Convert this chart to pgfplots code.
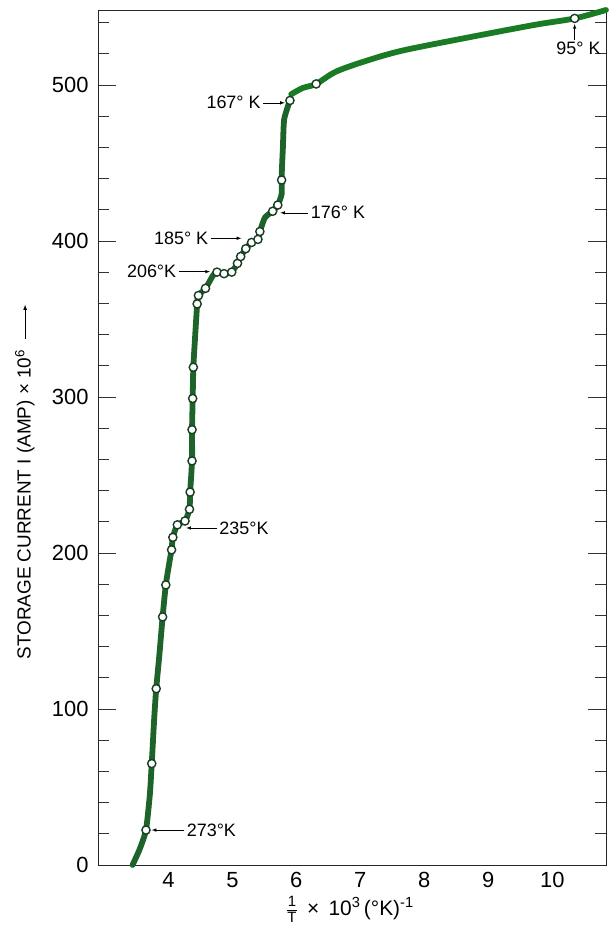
\documentclass[border=0pt]{standalone}
\usepackage{fontspec}
\setmainfont{Liberation Sans}
\usepackage{pgfplots}
\pgfplotsset{compat=1.18}
\definecolor{curve}{RGB}{30,100,42}
\definecolor{mk}{RGB}{25,60,35}
\newcommand{\uparr}{\tikz[baseline=-0.55ex]\draw[-latex, line width=0.8bp] (0,0) -- (34bp,0);}
\begin{document}
\begin{tikzpicture}
\begin{axis}[
  scale only axis,
  width=508bp, height=855bp,
  xmin=2.9, xmax=10.84, ymin=0, ymax=548,
  xtick={4,5,6,7,8,9,10},
  minor xtick={4,5,6,7,8,9,10},
  xtick style={draw=none},
  ytick={0,100,200,300,400,500},
  minor ytick={20,40,60,80,120,140,160,180,220,240,260,280,320,340,360,380,420,440,460,480,520,540},
  tick align=inside,
  major tick length=18bp,
  minor tick length=11bp,
  minor tick style={black!80, line width=0.6bp},
  ytick style={black!80, line width=0.6bp},
  axis line style={black!85, line width=0.8bp},
  /pgf/number format/assume math mode=true,
  tick label style={font=\fontsize{22}{24}\selectfont},
  xticklabel style={yshift=-4bp},
  yticklabel style={xshift=-6bp},
  xlabel={$\frac{\mbox{\fontsize{15}{15}\selectfont 1}}{\mbox{\fontsize{15}{15}\selectfont T}}$\, × \,10\textsuperscript{3}\,(°K)\textsuperscript{-1}},
  xlabel style={font=\fontsize{21}{23}\selectfont, at={(axis description cs:0.496,-0.052)}, anchor=center},
  ylabel={STORAGE CURRENT I (AMP) × 10\textsuperscript{6} \ \uparr},
  ylabel style={font=\fontsize{19}{21}\selectfont, at={(axis description cs:-0.144,0.448)}, anchor=center},
  clip=false,
]
% curve
\addplot[curve, line width=5.8bp, smooth, tension=0.35, line cap=round] coordinates {
(3.44,0) (3.55,10) (3.65,22.4) (3.71,45) (3.74,65) (3.78,95) (3.81,113) (3.86,135) (3.91,159) (3.96,179.5) (4.02,195) (4.05,202) (4.07,210) (4.14,218) (4.26,220.5) (4.33,228) (4.34,239) (4.37,259) (4.37,279) (4.38,299) (4.39,319) (4.42,340) (4.45,359.6) (4.47,365) (4.58,369.6) (4.70,378) (4.76,380) (4.87,379) (4.99,380) (5.08,385.6) (5.13,390) (5.21,395) (5.30,399) (5.40,401) (5.43,406) (5.51,415) (5.63,419) (5.71,423) (5.77,430) (5.77,441) (5.79,460) (5.81,478) (5.90,490)
};
\addplot[curve!85!green, line width=5.8bp, smooth, tension=0.5, line cap=round] coordinates {
(5.92,494) (6.1,498) (6.31,500.6) (6.62,508.5) (7.10,515.5) (7.66,522) (8.70,530.5) (9.73,538.5) (10.35,542.6) (10.84,548)
};
% measured points
\addplot[only marks, mark=*, mark size=4.1bp, mark options={fill=white, draw=mk, line width=1.4bp}] coordinates {
(3.65,22.4) (3.74,65) (3.81,113) (3.91,159) (3.96,179.5) (4.05,202) (4.07,210) (4.14,218) (4.26,220.5) (4.33,228) (4.34,239) (4.37,259) (4.37,279) (4.38,299) (4.39,319) (4.45,359.6) (4.47,365) (4.58,369.6) (4.76,380) (4.87,379) (4.99,380) (5.08,385.6) (5.13,390) (5.21,395) (5.30,399) (5.40,401) (5.43,406) (5.63,419) (5.71,423) (5.77,439) (5.90,490) (6.31,500.6) (10.35,542.6)
};
% annotations
\begin{scope}[font=\fontsize{18}{20}\selectfont]
\draw[-latex, line width=0.6bp] (axis cs:4.25,22.4) -- (axis cs:3.74,22.4);
\node[anchor=west, inner sep=1bp] at (axis cs:4.27,22.4) {273°K};
\draw[-latex, line width=0.6bp] (axis cs:4.76,216) -- (axis cs:4.28,216);
\node[anchor=west, inner sep=1bp] at (axis cs:4.78,216) {235°K};
\draw[-latex, line width=0.6bp] (axis cs:4.16,380.3) -- (axis cs:4.65,380.3);
\node[anchor=east, inner sep=1bp] at (axis cs:4.14,380.3) {206°K};
\draw[-latex, line width=0.6bp] (axis cs:4.66,401.7) -- (axis cs:5.14,401.7);
\node[anchor=east, inner sep=1bp] at (axis cs:4.64,401.7) {185° K};
\draw[-latex, line width=0.6bp] (axis cs:6.19,418) -- (axis cs:5.75,418);
\node[anchor=west, inner sep=1bp] at (axis cs:6.21,418) {176° K};
\draw[-latex, line width=0.6bp] (axis cs:5.48,488.5) -- (axis cs:5.82,488.5);
\node[anchor=east, inner sep=1bp] at (axis cs:5.46,488.5) {167° K};
\draw[-latex, line width=0.6bp] (axis cs:10.35,529) -- (axis cs:10.35,539);
\node[anchor=north, inner sep=1bp] at (axis cs:10.41,528) {95° K};
\end{scope}
\end{axis}
\pgfresetboundingbox
\path ([shift={(-98bp,-67bp)}]current axis.south west) rectangle ([shift={(6bp,10bp)}]current axis.north east);
\end{tikzpicture}
\end{document}
